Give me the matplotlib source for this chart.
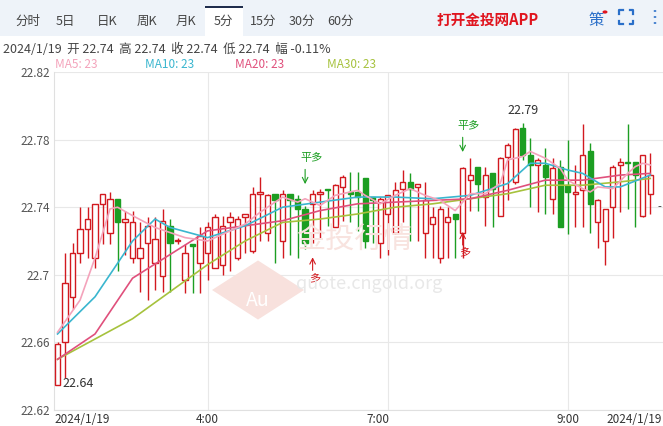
import matplotlib
matplotlib.use("Agg")
import matplotlib.pyplot as plt
import matplotlib.patches as mpatches
import numpy as np

plt.rcParams['font.family'] = ['Noto Sans CJK SC', 'DejaVu Sans']

opens = [22.635,22.660,22.687,22.713,22.727,22.710,22.742,22.725,22.745,22.731,
         22.710,22.710,22.719,22.707,22.699,22.729,22.720,22.697,22.718,22.707,
         22.713,22.704,22.706,22.731,22.710,22.734,22.714,22.748,22.725,22.748,
         22.720,22.748,22.745,22.739,22.742,22.748,22.751,22.728,22.752,22.749,
         22.749,22.757,22.746,22.719,22.736,22.725,22.751,22.755,22.752,22.725,
         22.730,22.710,22.731,22.736,22.725,22.756,22.764,22.746,22.760,22.735,
         22.770,22.755,22.787,22.771,22.765,22.765,22.745,22.764,22.753,22.748,
         22.750,22.773,22.731,22.720,22.740,22.765,22.767,22.767,22.735,22.748]
highs = [22.660,22.713,22.719,22.740,22.740,22.742,22.748,22.749,22.745,22.738,
         22.738,22.731,22.734,22.734,22.739,22.733,22.722,22.718,22.718,22.728,
         22.731,22.736,22.735,22.737,22.735,22.736,22.752,22.758,22.748,22.748,
         22.750,22.748,22.747,22.741,22.750,22.751,22.751,22.754,22.759,22.761,
         22.761,22.757,22.746,22.746,22.747,22.755,22.762,22.760,22.754,22.755,
         22.740,22.741,22.740,22.736,22.764,22.769,22.764,22.764,22.760,22.770,
         22.778,22.787,22.790,22.781,22.769,22.775,22.769,22.768,22.780,22.765,
         22.789,22.778,22.745,22.739,22.765,22.769,22.789,22.767,22.771,22.772]
lows = [22.635,22.639,22.680,22.707,22.710,22.704,22.718,22.718,22.702,22.712,
        22.707,22.690,22.685,22.691,22.690,22.690,22.718,22.689,22.689,22.689,
        22.697,22.704,22.700,22.702,22.709,22.713,22.713,22.720,22.720,22.707,
        22.710,22.712,22.710,22.715,22.719,22.722,22.729,22.728,22.732,22.731,
        22.726,22.716,22.719,22.710,22.712,22.724,22.731,22.720,22.720,22.710,
        22.710,22.707,22.710,22.710,22.710,22.738,22.738,22.729,22.728,22.735,
        22.744,22.754,22.768,22.740,22.737,22.736,22.736,22.728,22.724,22.728,
        22.728,22.725,22.716,22.706,22.722,22.737,22.739,22.728,22.734,22.736]
closes = [22.659,22.695,22.713,22.727,22.733,22.742,22.748,22.745,22.731,22.733,
          22.731,22.716,22.729,22.721,22.732,22.719,22.720,22.713,22.717,22.723,
          22.728,22.734,22.729,22.734,22.733,22.736,22.748,22.749,22.747,22.744,
          22.748,22.744,22.739,22.719,22.748,22.749,22.750,22.753,22.758,22.748,
          22.746,22.720,22.744,22.745,22.747,22.750,22.755,22.751,22.754,22.744,
          22.734,22.739,22.734,22.733,22.763,22.759,22.754,22.759,22.751,22.769,
          22.777,22.786,22.771,22.765,22.768,22.758,22.763,22.728,22.749,22.749,
          22.771,22.742,22.744,22.739,22.764,22.767,22.766,22.759,22.771,22.759]

# moving averages (they include history before the first bar)
ma5_idx = [0,3,5,7,8,10,13,15,17,20,23,25,27,30,32,33,35,37,40,41,43,45,47,49,51,53,55,57,59,
           60,62,63,65,67,68,70,71,72,74,76,77,78,79]
ma5_val = [22.666,22.685,22.710,22.739,22.740,22.735,22.728,22.725,22.722,22.720,22.726,22.730,
           22.737,22.746,22.743,22.745,22.741,22.747,22.750,22.747,22.742,22.747,22.751,22.747,
           22.744,22.738,22.748,22.748,22.754,22.768,22.770,22.773,22.769,22.763,22.756,22.751,
           22.749,22.752,22.751,22.760,22.764,22.766,22.765]
ma10_idx = [0,5,10,13,15,20,25,30,35,40,45,50,55,60,63,65,68,70,73,75,79]
ma10_val = [22.665,22.687,22.720,22.733,22.728,22.722,22.729,22.740,22.743,22.746,22.746,22.745,
            22.747,22.754,22.766,22.766,22.762,22.760,22.752,22.752,22.759]
ma20_idx = [0,5,10,15,20,25,30,35,40,45,50,55,60,65,70,75,79]
ma20_val = [22.650,22.665,22.698,22.712,22.726,22.729,22.732,22.738,22.742,22.743,22.744,22.745,
            22.750,22.756,22.756,22.759,22.760]
ma30_idx = [0,5,10,15,20,25,30,35,40,45,50,55,60,65,70,75,79]
ma30_val = [22.650,22.662,22.674,22.690,22.706,22.720,22.731,22.733,22.736,22.740,22.742,22.745,
            22.748,22.753,22.753,22.755,22.757]

x_labels = {0: "2024/1/19", 20: "4:00", 42.7: "7:00", 68: "9:00"}
y_ticks = [22.62, 22.66, 22.70, 22.74, 22.78, 22.82]
tabs = ["分时", "5日", "日K", "周K", "月K", "5分", "15分", "30分", "60分"]
tab_x = [28, 65, 107, 147, 186, 223, 263, 302, 341]

RED = "#d2191f"; GREEN = "#1c9e22"
W, H = 663, 426
fig = plt.figure(figsize=(W/100, H/100), dpi=100)
def fx(px): return px / W
def fy(py): return 1 - py / H

fig.patches.append(mpatches.Rectangle((0, fy(36)), 1, 36/H, transform=fig.transFigure,
                                      facecolor="#eef3f9", edgecolor="none", zorder=0))
fig.patches.append(mpatches.Rectangle((fx(205), fy(36)), 38/W, 30/H, transform=fig.transFigure,
                                      facecolor="white", edgecolor="none", zorder=1))
fig.patches.append(mpatches.Rectangle((fx(205), fy(8)), 38/W, 2/H, transform=fig.transFigure,
                                      facecolor="#1f2d4d", edgecolor="none", zorder=2))
for t, xx in zip(tabs, tab_x):
    fig.text(fx(xx), fy(21), t, ha="center", va="center", fontsize=9, color="#444")
fig.text(fx(488), fy(20), "打开金投网APP", ha="center", va="center", fontsize=10.5,
         color="#e0141e", fontweight="bold")
fig.text(fx(596), fy(20), "策", ha="center", va="center", fontsize=11, color="#2a6fc9")
fig.patches.append(mpatches.Circle((fx(605), fy(12)), 2.5/W, transform=fig.transFigure,
                                   facecolor="#e0141e", edgecolor="none"))
# fullscreen icon: four corner brackets
cx, cy, hs, ln = 626, 17, 7, 3.5
for sx in (-1, 1):
    for sy in (-1, 1):
        x0, y0 = cx + sx*hs, cy + sy*hs
        fig.lines.append(plt.Line2D([fx(x0 - sx*ln), fx(x0), fx(x0)],
                                    [fy(y0), fy(y0), fy(y0 - sy*ln)],
                                    transform=fig.transFigure, color="#2a6fc9", lw=1.6))
for dy in (-6, 0, 6):
    fig.patches.append(mpatches.Circle((fx(655), fy(17 + dy)), 1.4/W, transform=fig.transFigure,
                                       facecolor="#2a6fc9", edgecolor="none"))

fig.text(fx(3), fy(49), "2024/1/19  开 22.74  高 22.74  收 22.74  低 22.74  幅 -0.11%",
         ha="left", va="center", fontsize=9, color="#444")
for txt, xx, col in [("MA5: 23", 55, "#f4a3bb"), ("MA10: 23", 145, "#3ab6cf"),
                     ("MA20: 23", 235, "#e0507c"), ("MA30: 23", 327, "#a6c23d")]:
    fig.text(fx(xx), fy(64), txt, ha="left", va="center", fontsize=8.5, color=col)

ax = fig.add_axes([fx(54), fy(410), (W-54)/W, (410-72)/H])
n = len(closes)
idx = np.arange(n)
ax.set_xlim(-0.47, 80.7)
ax.set_ylim(22.62, 22.82)

wm = mpatches.RegularPolygon((fx(258), fy(290)), 4, radius=46/W, orientation=0,
                             transform=fig.transFigure, facecolor="#f8e1dd",
                             edgecolor="none", zorder=0.5)
fig.patches.append(wm)
fig.text(fx(258), fy(300), "Au", ha="center", va="center", fontsize=14, color="white", zorder=0.6)
fig.text(fx(296), fy(240), "金投行情", ha="left", va="center", fontsize=21, color="#f8e3df",
         zorder=0.6)
fig.text(fx(296), fy(284), "quote.cngold.org", ha="left", va="center", fontsize=13,
         color="#e8e8e8", zorder=0.6)

ax.set_facecolor("none")
for v in y_ticks:
    ax.axhline(v, color="#e8e8e8", lw=0.8, zorder=0)
for k in [20, 44, 68]:
    ax.axvline(k, color="#e8e8e8", lw=0.8, zorder=0)
for s in ax.spines.values():
    s.set_visible(False)
ax.spines["left"].set_visible(True); ax.spines["left"].set_color("#e0e0e0")
ax.spines["bottom"].set_visible(True); ax.spines["bottom"].set_color("#e0e0e0")

ax.set_yticks(y_ticks)
ax.set_yticklabels(["22.62", "22.66", "22.7", "22.74", "22.78", "22.82"])
ax.tick_params(axis="y", length=0, labelsize=8.5, labelcolor="#555", pad=3)
ax.set_xticks([])
for k, lab in x_labels.items():
    ax.text(k - 0.4 if k == 0 else k, 22.6185, lab, ha="left" if k == 0 else "center",
            va="top", fontsize=8.5, color="#333")
ax.text(80.5, 22.6185, "2024/1/19", ha="right", va="top", fontsize=8.5, color="#333")

opens_a = np.array(opens); closes_a = np.array(closes)
up = closes_a >= opens_a
colors = np.where(up, RED, GREEN)
ax.vlines(idx, lows, highs, colors=colors, lw=1, zorder=2)
bottom = np.minimum(opens_a, closes_a)
height = np.maximum(np.abs(closes_a - opens_a), 0.0006)
ax.bar(idx[up], height[up], bottom=bottom[up], width=0.7, facecolor="white",
       edgecolor=RED, lw=1, zorder=3)
ax.bar(idx[~up], height[~up], bottom=bottom[~up], width=0.7, facecolor=GREEN,
       edgecolor=GREEN, lw=1, zorder=3)

for xi, yv, col in [(ma30_idx, ma30_val, "#a6c23d"), (ma20_idx, ma20_val, "#e0507c"),
                    (ma10_idx, ma10_val, "#3ab6cf"), (ma5_idx, ma5_val, "#f4a3bb")]:
    ax.plot(xi, yv, color=col, lw=1.2, zorder=4)

ax.text(0.6, 22.6395, "22.64", ha="left", va="top", fontsize=9, color="#333")
ax.text(62, 22.7935, "22.79", ha="center", va="bottom", fontsize=9, color="#333")
for k, yv in [(33, 22.766), (54, 22.785)]:
    ax.text(k + 0.8, yv, "平多", ha="center", va="bottom", fontsize=8, color=GREEN, zorder=5)
    ax.annotate("", xy=(k, yv - 0.014), xytext=(k, yv - 0.002),
                arrowprops=dict(arrowstyle="->", color=GREEN, lw=0.8))
for k, yv in [(34, 22.712), (54, 22.727)]:
    ax.annotate("", xy=(k, yv), xytext=(k, yv - 0.011),
                arrowprops=dict(arrowstyle="->", color=RED, lw=0.8))
    ax.text(k + 0.3, yv - 0.011, "多", ha="center", va="top", fontsize=8, color=RED, zorder=5)
ax.text(79.9, 22.740, "-", ha="left", va="center", fontsize=8, color="#333")

fig.savefig("out.png", dpi=100)
